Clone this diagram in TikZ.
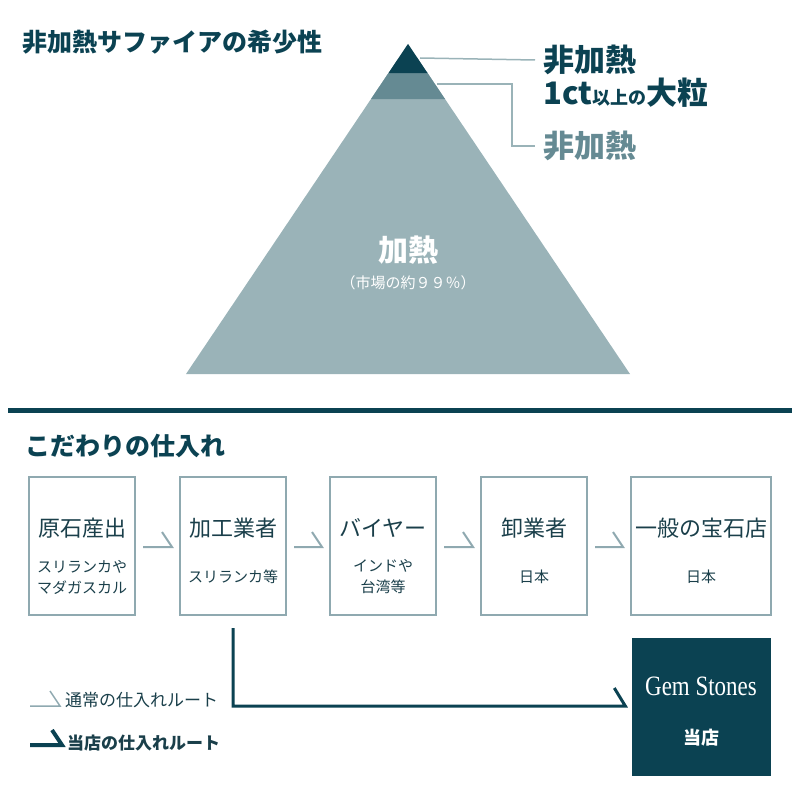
\documentclass[tikz,border=0pt]{standalone}
\usepackage{fontspec}
\setmainfont{Noto Sans CJK JP}
\newfontfamily\gemfont{Liberation Serif}
\usetikzlibrary{positioning}
\definecolor{deep}{HTML}{0B4252}
\definecolor{midgray}{HTML}{658A93}
\definecolor{light}{HTML}{9AB3B8}
\definecolor{frame}{HTML}{8FA9B0}
\definecolor{ink}{HTML}{1A3F4A}
\begin{document}
\begin{tikzpicture}[x=1pt, y=-1pt,
    every node/.style={inner sep=0pt, text=ink},
    stage/.style={draw=frame, line width=2pt, minimum width=106pt, minimum height=138pt},
    main/.style={font=\fontsize{22}{24}\selectfont},
    sub/.style={font=\fontsize{15}{21}\selectfont, align=center},
    normal/.style={draw=frame, line width=2pt, line join=miter},
    ours/.style={draw=deep, line width=3pt, line join=miter}
    ]
\useasboundingbox (0,0) rectangle (800,800);
% pyramid
\fill[light] (408,44) -- (186,374) -- (630,374) -- cycle;
\fill[midgray] (388.5,73) -- (371,99) -- (445,99) -- (427.5,73) -- cycle;
\fill[deep] (408,44) -- (388.5,73) -- (427.5,73) -- cycle;
\node[anchor=west, font=\fontsize{25}{28}\selectfont\bfseries, text=deep] (title) at (22,42) {非加熱サファイアの希少性};
\node[anchor=west, font=\fontsize{31}{34}\selectfont\bfseries, text=deep] (rare) at (543,60) {非加熱};
\node[anchor=west, font=\fontsize{31}{34}\selectfont\bfseries, text=deep] (big) at (543,93) {1ct{\fontsize{18}{20}\selectfont 以上の}大粒};
\node[anchor=west, font=\fontsize{31}{34}\selectfont\bfseries, text=midgray] (plain) at (543,146) {非加熱};
\coordinate (tip1) at (420,58);
\coordinate (tip2) at (437,84);
\draw[light, line width=1.5pt] (tip1) -- ([xshift=-8pt]rare.west);
\draw[light, line width=1.5pt] (tip2) -| (512,146) -- ([xshift=-8pt]plain.west);
\node[font=\fontsize{30}{32}\selectfont\bfseries, text=white] (heat) at (408,250) {加熱};
\node[font=\fontsize{15}{18}\selectfont, text=white] (share) at (408,283) {（市場の約９９％）};
% separator
\draw[deep, line width=5pt] (8,410) -- (792,410);
\node[anchor=west, font=\fontsize{25}{28}\selectfont\bfseries, text=deep] (route) at (25,446) {こだわりの仕入れ};
% flow
\node[stage] (p1) at (82,546) {};
\node[stage] (p2) at (233,546) {};
\node[stage] (p3) at (383,546) {};
\node[stage] (p4) at (534,546) {};
\node[stage, minimum width=140pt] (p5) at (701,546) {};
\node[main] at (82,528) {原石産出};
\node[main] at (233,528) {加工業者};
\node[main] at (383,528) {バイヤー};
\node[main] at (534,528) {卸業者};
\node[main] at (701,528) {一般の宝石店};
\node[sub] at (82,577) {スリランカや\\マダガスカル};
\node[sub] at (233,577) {スリランカ等};
\node[sub] at (383,577) {インドや\\台湾等};
\node[sub] at (534,577) {日本};
\node[sub] at (701,577) {日本};
\foreach \a/\b in {p1/p2, p2/p3, p3/p4, p4/p5}
  \draw[normal] ([xshift=7pt,yshift=-1pt]\a.east) -- ([xshift=-7pt,yshift=-1pt]\b.west) -- ++(-10,-15);
% our shop
\node[fill=deep, minimum width=139pt, minimum height=138pt] (gem) at (701,707) {};
\node[font=\gemfont\fontsize{28}{30}\selectfont, text=white, xscale=0.82] at (701,686) {Gem Stones};
\node[font=\fontsize{18}{20}\selectfont\bfseries, text=white] at (701,738) {当店};
\draw[ours] ([yshift=-12pt]p2.south) |- ([xshift=-6pt,yshift=1pt]gem.west) -- ++(-11,-18);
% legend
\coordinate (l1) at (30,706);
\coordinate (l2) at (30,745);
\draw[normal, line width=1.5pt] (l1) -- ++(30,0) -- ++(-10,-15);
\draw[ours, line width=4pt] (l2) -- ++(32,0) -- ++(-10,-15);
\node[anchor=west, font=\fontsize{17}{20}\selectfont] at (65,700) {通常の仕入れルート};
\node[anchor=west, font=\fontsize{17}{20}\selectfont\bfseries] at (67,743) {当店の仕入れルート};
\end{tikzpicture}
\end{document}
